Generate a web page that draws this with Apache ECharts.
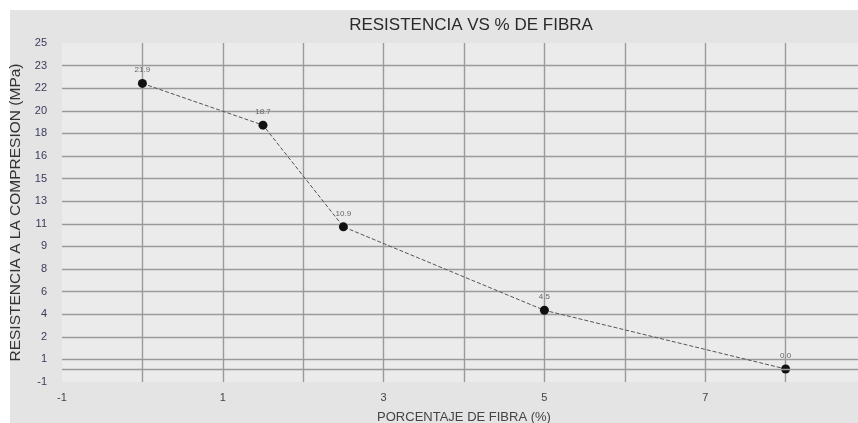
<!DOCTYPE html>
<html>
<head>
<meta charset="utf-8">
<script src="https://cdn.jsdelivr.net/npm/echarts@6/dist/echarts.min.js"></script>
<style>html,body{margin:0;padding:0;background:#fff;}#c{width:858px;height:423px;}</style>
</head>
<body>
<div id="c"></div>
<script>
var fiberPct = [0, 1.5, 2.5, 5, 8];
var strength = [21.9, 18.7, 10.9, 4.5, 0.0];
var pointLabels = ['21.9', '18.7', '10.9', '4.5', '0.0'];
var yTickLabels = ['-1', '1', '2', '4', '6', '8', '9', '11', '13', '15', '16', '18', '20', '22', '23', '25'];
var xTickLabels = ['-1', '', '1', '', '3', '', '5', '', '7', '', ''];

var yMin = -1, yMax = 25, ySteps = yTickLabels.length - 1;
var yInterval = (yMax - yMin) / ySteps;
var xMin = -1, xMax = 9;

var chart = echarts.init(document.getElementById('c'));
chart.setOption({
  animation: false,
  backgroundColor: '#ffffff',
  graphic: [{
    type: 'rect', z: -10, silent: true,
    shape: { x: 10, y: 10, width: 858, height: 423 },
    style: { fill: '#e4e4e4' }
  }],
  title: {
    text: 'RESISTENCIA VS % DE FIBRA',
    left: 466, top: 12, textAlign: 'center',
    textStyle: { fontFamily: 'Liberation Sans', fontSize: 17, fontWeight: 'normal', color: '#2a2a2a' }
  },
  grid: {
    left: 62, right: -8, top: 43, bottom: 41,
    outerBoundsMode: 'none', containLabel: false,
    show: true, backgroundColor: '#ebebeb', borderWidth: 0
  },
  xAxis: {
    type: 'value', min: xMin, max: xMax, interval: 1,
    name: 'PORCENTAJE DE FIBRA (%)', nameLocation: 'middle', nameGap: 29,
    nameTextStyle: { fontFamily: 'Liberation Sans', fontSize: 13, color: '#444' },
    axisLine: { show: false }, axisTick: { show: false },
    axisLabel: {
      margin: 10, fontFamily: 'Liberation Sans', fontSize: 11, color: '#444',
      formatter: function (v) { var i = Math.round(v - xMin); return xTickLabels[i] || ''; }
    },
    splitLine: { show: true, showMinLine: false, showMaxLine: false, lineStyle: { color: '#9a9a9a', width: 1.4 } }
  },
  yAxis: {
    type: 'value', min: yMin, max: yMax, interval: yInterval,
    name: 'RESISTENCIA A LA COMPRESION (MPa)', nameLocation: 'middle', nameGap: 37, nameRotate: 90,
    nameTextStyle: { fontFamily: 'Liberation Sans', fontSize: 15.5, color: '#333' },
    axisLine: { show: false }, axisTick: { show: false },
    axisLabel: {
      margin: 15, fontFamily: 'Liberation Sans', fontSize: 11, color: '#3a3a5a', showMaxLabel: true, showMinLabel: true,
      formatter: function (v) { var i = Math.round((v - yMin) / yInterval); return yTickLabels[i] || ''; }
    },
    splitLine: { show: true, showMinLine: false, showMaxLine: false, lineStyle: { color: '#9a9a9a', width: 1.4 } }
  },
  series: [{
    type: 'line',
    data: fiberPct.map(function (x, i) { return [x, strength[i]]; }),
    symbol: 'circle', symbolSize: 9,
    itemStyle: { color: '#111' },
    lineStyle: { color: '#555', width: 1, type: [4, 2] },
    label: {
      show: true, position: 'top', distance: 5,
      fontFamily: 'Liberation Sans', fontSize: 8, color: '#666',
      formatter: function (p) { return pointLabels[p.dataIndex]; }
    },
    markLine: {
      silent: true, symbol: 'none', label: { show: false },
      lineStyle: { color: '#9a9a9a', width: 1.4, type: 'solid' },
      data: [{ yAxis: 0 }]
    }
  }]
});
</script>
</body>
</html>
